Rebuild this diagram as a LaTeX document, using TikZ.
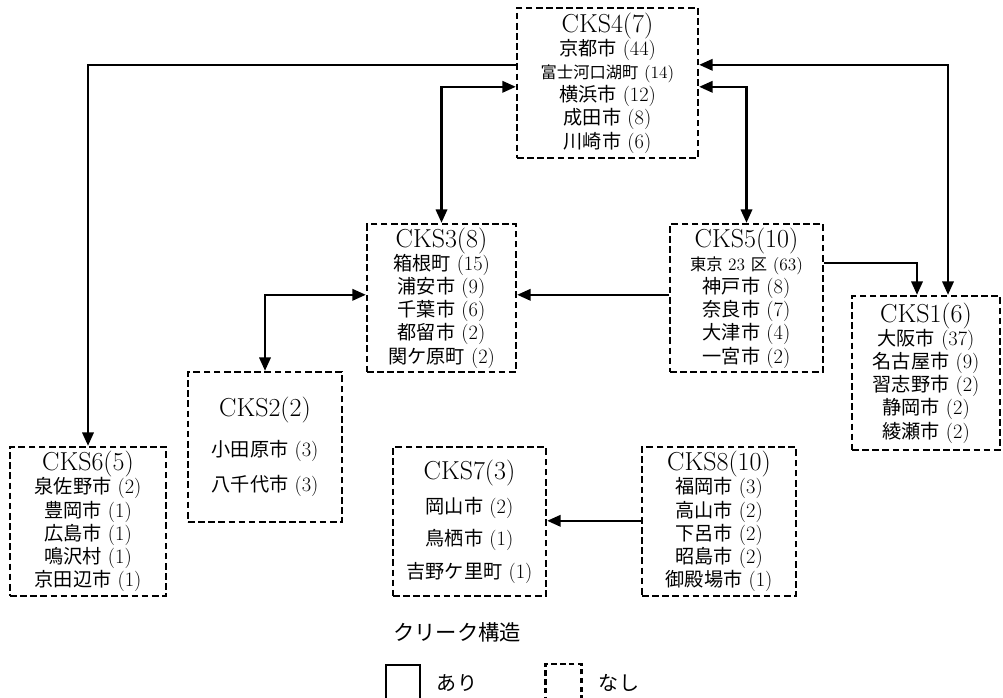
\documentclass[tikz,border=0pt]{standalone}
\usepackage{fontspec}
\newfontfamily\cjk[Scale=0.94]{Noto Sans CJK JP}
\usetikzlibrary{arrows.meta}
\newcommand\J[1]{{\cjk #1}}
\newcommand\hd[1]{{\fontsize{19.5}{21}\selectfont #1}}
\newcommand\sm[1]{{\fontsize{13}{17.4}\selectfont #1}}
\begin{document}
\begin{tikzpicture}[x=0.75pt,y=-0.75pt,
  cbox/.style={draw, line width=1.8pt, dash pattern=on 5pt off 2.6pt, align=center,
    inner sep=0pt, font=\fontsize{15.3}{17.4}\selectfont},
  conn/.style={line width=1.7pt, -{Triangle[length=10pt,width=8.5pt]}},
  conntwo/.style={line width=1.7pt, {Triangle[length=10pt,width=8.5pt]}-{Triangle[length=10pt,width=8.5pt]}}]
\useasboundingbox (0,0) rectangle (1003,697);

\node[cbox, minimum width=135.75pt, minimum height=112.5pt] (cks4) at (607.5,83)
  {\hd{CKS4(7)}\\ \J{京都市} (44)\\ \sm{\J{富士河口湖町} (14)}\\ \J{横浜市} (12)\\ \J{成田市} (8)\\ \J{川崎市} (6)};
\node[cbox, minimum width=111.75pt, minimum height=111pt] (cks3) at (441.5,298)
  {\hd{CKS3(8)}\\ \J{箱根町} (15)\\ \J{浦安市} (9)\\ \J{千葉市} (6)\\ \J{都留市} (2)\\ \J{関ケ原町} (2)};
\node[cbox, minimum width=114.75pt, minimum height=111pt] (cks5) at (746.5,298)
  {\hd{CKS5(10)}\\ \sm{\J{東京} 23 \J{区} (63)}\\ \J{神戸市} (8)\\ \J{奈良市} (7)\\ \J{大津市} (4)\\ \J{一宮市} (2)};
\node[cbox, minimum width=111pt, minimum height=115.5pt] (cks1) at (926,373)
  {\hd{CKS1(6)}\\ \J{大阪市} (37)\\ \J{名古屋市} (9)\\ \J{習志野市} (2)\\ \J{静岡市} (2)\\ \J{綾瀬市} (2)};
\node[cbox, minimum width=115.5pt, minimum height=112.5pt] (cks2) at (265,447)
  {\hd{CKS2(2)}\\[12pt] \J{小田原市} (3)\\[9pt] \J{八千代市} (3)};
\node[cbox, minimum width=117pt, minimum height=111.75pt] (cks6) at (88,521.5)
  {\hd{CKS6(5)}\\ \J{泉佐野市} (2)\\ \J{豊岡市} (1)\\ \J{広島市} (1)\\ \J{鳴沢村} (1)\\ \J{京田辺市} (1)};
\node[cbox, minimum width=114.75pt, minimum height=111.75pt] (cks7) at (469.5,521.5)
  {\hd{CKS7(3)}\\[8pt] \J{岡山市} (2)\\[7pt] \J{鳥栖市} (1)\\[7pt] \J{吉野ケ里町} (1)};
\node[cbox, minimum width=115.5pt, minimum height=111.75pt] (cks8) at (719,521.5)
  {\hd{CKS8(10)}\\ \J{福岡市} (3)\\ \J{高山市} (2)\\ \J{下呂市} (2)\\ \J{昭島市} (2)\\ \J{御殿場市} (1)};

% connectors
\draw[conn] ([yshift=-43.5pt]cks4.north west) -| (cks6.north);
\draw[conntwo] (cks3.north) |- ([yshift=-60pt]cks4.north west);
\draw[conntwo] (cks5.north) |- ([yshift=-60pt]cks4.north east);
\draw[conntwo] ([yshift=-43.5pt]cks4.north east) -| ([xshift=16.5pt]cks1.north);
\draw[conn] ([yshift=-30pt]cks5.north east) -| ([xshift=-6.75pt]cks1.north);
\draw[conn] ([yshift=-54pt]cks5.north west) -- ([yshift=-54pt]cks3.north east);
\draw[conntwo] ([yshift=-54pt]cks3.north west) -| (cks2.north);
\draw[conn] ([yshift=-56.25pt]cks8.north west) -- ([yshift=-56.25pt]cks7.north east);

% legend
\node[font=\fontsize{17}{20}\selectfont] (lgtitle) at (457,632) {\J{クリーク構造}};
\node[draw, line width=1.6pt, minimum size=25.5pt, inner sep=0pt] (lgsolid) at (403,682) {};
\node[font=\fontsize{16}{20}\selectfont] (lgari) at (457,683) {\J{あり}};
\node[draw, line width=1.8pt, dash pattern=on 4pt off 2.6pt, minimum size=27pt, inner sep=0pt] (lgdash) at (563.5,682) {};
\node[font=\fontsize{16}{20}\selectfont] (lgnashi) at (619,683) {\J{なし}};
\end{tikzpicture}
\end{document}
